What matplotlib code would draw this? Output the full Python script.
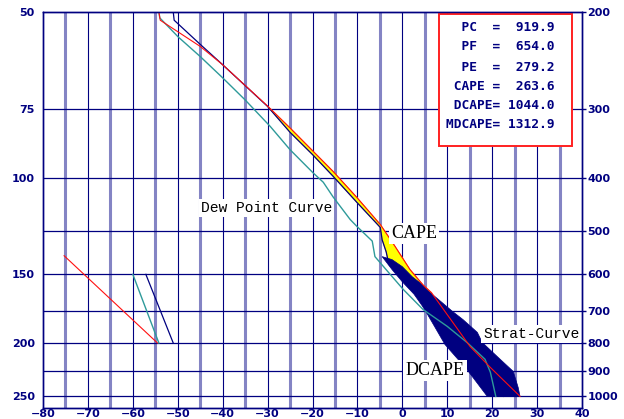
import matplotlib
matplotlib.use('Agg')
import matplotlib.pyplot as plt
from matplotlib.patches import Polygon, Rectangle
from matplotlib.ticker import NullLocator

# parcel / state curve (red)
red_t = [-54.2, -53.9, -45.0, -40.1, -35.0, -30.1, -25.0, -15.4, -10.1, -4.9, -1.6, 1.7, 4.6, 6.5, 11.1, 15.1, 19.6, 26.2]
red_p = [200, 207, 231, 249, 272, 296, 325, 390, 435, 487, 534, 588, 627, 648, 731, 812, 886, 1000]

# environment temperature (navy)
env_t = [-51.0, -50.8, -45.0, -40.1, -30.0, -25.0, -19.9, -15.4, -10.1, -4.9, -4.5, -3.6, -3.0, 1.0, 6.6, 10.0, 15.0, 19.5, 22.5]
env_p = [200, 207, 229, 249, 297, 331, 364, 398, 444, 493, 519, 546, 575, 610, 653, 720, 800, 900, 1000]

# dew point curve (teal)
dew_t = [-54.2, -54.0, -49.9, -45.0, -40.1, -35.0, -29.4, -25.0, -19.9, -17.6, -15.4, -11.6, -10.1, -6.7, -6.1, -2.7, 0.2, 4.6, 10.0, 14.4, 18.4, 19.6, 20.8]
dew_p = [200, 205, 222, 241, 263, 289, 323, 356, 392, 408, 434, 477, 491, 522, 557, 600, 639, 695, 746, 798, 856, 904, 1000]

# DCAPE area outline
dcape_t = [-4.5, -2.3, 0.0, 2.2, 4.4, 6.2, 7.8, 11.1, 13.5, 16.7, 17.8, 21.1, 24.7, 25.8, 26.2, 18.9, 14.4, 9.5, 5.5, 4.4, 2.6, 0.0, -2.3]
dcape_p = [557, 564, 581, 606, 626, 648, 664, 700, 725, 765, 798, 846, 901, 964, 1000, 1000, 894, 805, 707, 684, 652, 619, 588]

# short lines lower left
ll_red_t, ll_red_p = [-75.3, -54.5], [555, 800]
ll_teal_t, ll_teal_p = [-60.0, -54.2], [600, 800]
ll_navy_t, ll_navy_p = [-57.1, -51.0], [600, 800]

x_ticks = [-80, -70, -60, -50, -40, -30, -20, -10, 0, 10, 20, 30, 40]
x_labels = ['\u221280', '\u221270', '\u221260', '\u221250', '\u221240', '\u221230', '\u221220', '\u221210', '0', '10', '20', '30', '40']
left_p = [200, 300, 400, 600, 800, 1000]
left_labels = ['50', '75', '100', '150', '200', '250']
right_p = [200, 300, 400, 500, 600, 700, 800, 900, 1000]
right_labels = ['200', '300', '400', '500', '600', '700', '800', '900', '1000']

info_lines = ['  PC  =  919.9', '  PF  =  654.0', '  PE  =  279.2',
              ' CAPE =  263.6', ' DCAPE= 1044.0', 'MDCAPE= 1312.9']

navy = '#000080'
light = '#8484c4'

fig = plt.figure(figsize=(6.24, 4.19), dpi=100)
ax = fig.add_axes([43/624, 11/419, 539/624, 396/419])
ax.set_xlim(-80, 40)
ax.set_yscale('log')
ax.set_ylim(1050, 200)

# grid
for x in range(-75, 40, 10):
    ax.axvline(x, color=light, lw=2.2, zorder=1)
for x in range(-70, 40, 10):
    ax.axvline(x, color=navy, lw=0.8, zorder=1.2)
for p in right_p[1:]:
    ax.axhline(p, color=navy, lw=0.9, zorder=1.2)

# CAPE (yellow) area between parcel and environment
cape_r = [(t, p) for t, p in zip(red_t, red_p) if 275 <= p <= 653]
cape_e = [(t, p) for t, p in zip(env_t, env_p) if 275 <= p <= 653]
ax.add_patch(Polygon(cape_r + cape_e[::-1], closed=True, fc='#ffff00',
                     ec='#ffa000', lw=0.6, zorder=2))
ax.plot(env_t, env_p, color=navy, lw=0.9, zorder=3)
ax.add_patch(Polygon(list(zip(dcape_t, dcape_p)), closed=True, fc=navy,
                     ec=navy, lw=0.5, zorder=4))
ax.plot(dew_t, dew_p, color='#2e9a9a', lw=1.0, zorder=5)
ax.plot(red_t, red_p, color='#ff1010', lw=0.8, zorder=5)

ax.plot(ll_red_t, ll_red_p, color='#ff1010', lw=0.8, zorder=5)
ax.plot(ll_teal_t, ll_teal_p, color='#2e9a9a', lw=1.0, zorder=5)
ax.plot(ll_navy_t, ll_navy_p, color=navy, lw=0.9, zorder=5)

# curve labels
bb = dict(fc='white', ec='none', pad=1.5)
ax.text(-30.3, 454, 'Dew Point Curve', family='Liberation Mono', fontsize=10.5,
        ha='center', va='center', bbox=bb, zorder=6)
ax.text(28.7, 769, 'Strat-Curve', family='Liberation Mono', fontsize=10.5,
        ha='center', va='center', bbox=bb, zorder=6)
ax.text(2.6, 506, 'CAPE', family='Liberation Serif', fontsize=13,
        ha='center', va='center', bbox=bb, zorder=6)
ax.text(7.3, 897, 'DCAPE', family='Liberation Serif', fontsize=13,
        ha='center', va='center', bbox=bb, zorder=6)

# info box
ax.add_patch(Rectangle((0.735, 0.662), 0.246, 0.333, transform=ax.transAxes,
                       fc='white', ec='#ff2020', lw=1.4, zorder=7))
ys = [0.962, 0.912, 0.861, 0.813, 0.763, 0.715]
for s, y in zip(info_lines, ys):
    ax.text(0.748, y, s, transform=ax.transAxes, family='DejaVu Sans Mono',
            fontweight='bold', fontsize=9.3, color=navy, ha='left', va='center',
            zorder=8)

# axes styling
tick_font = dict(family='DejaVu Sans', weight='bold', size=8)
ax.yaxis.set_minor_locator(NullLocator())
ax.set_yticks(left_p)
ax.set_yticklabels(left_labels, fontdict=tick_font)
ax.set_xticks(x_ticks)
ax.set_xticklabels(x_labels, fontdict=tick_font)
ax.tick_params(axis='y', length=0, pad=6, labelcolor=navy)
ax.tick_params(axis='x', length=0, pad=0.5, labelcolor=navy)

ax2 = ax.twinx()
ax2.set_yscale('log')
ax2.set_ylim(1050, 200)
ax2.yaxis.set_minor_locator(NullLocator())
ax2.set_yticks(right_p)
ax2.set_yticklabels(right_labels, fontdict=tick_font)
ax2.tick_params(axis='y', length=3, width=1, color=navy, pad=1, labelcolor=navy)

for a in (ax, ax2):
    for sp in a.spines.values():
        sp.set_color(navy)
        sp.set_linewidth(1.0)

fig.savefig('out.png', dpi=100)
